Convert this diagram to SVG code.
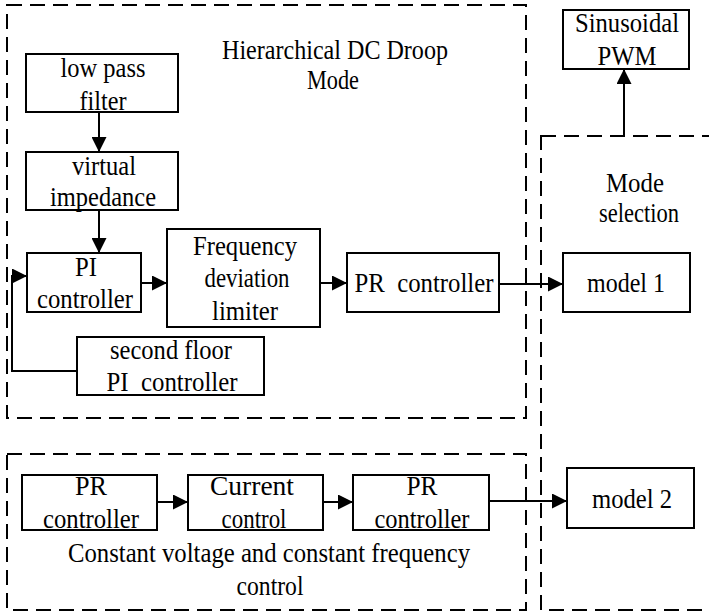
<svg xmlns="http://www.w3.org/2000/svg" width="709" height="615" viewBox="0 0 709 615">
<style>
.box{fill:#fff;stroke:#000;stroke-width:2}
.grp{fill:none;stroke:#000;stroke-width:2;stroke-dasharray:15 8}
.ln{fill:none;stroke:#000;stroke-width:2}
text{font-family:'Liberation Serif','Times New Roman',serif;font-size:27px;fill:#000;text-anchor:middle;white-space:pre}
.t{font-size:28px}
</style>
<defs>
<marker id="ah" markerUnits="userSpaceOnUse" markerWidth="15" markerHeight="15" refX="15" refY="7.5" orient="auto">
<path d="M0,0 L15,7.5 L0,15 Z" fill="#000"/>
</marker>
</defs>
<rect width="709" height="615" fill="#fff"/>
<g id="groups">
<rect id="droop-group" class="grp" x="7" y="5" width="519" height="413"/>
<rect id="cvcf-group" class="grp" x="7" y="454" width="519" height="156"/>
<rect id="mode-group" class="grp" x="541" y="136" width="200" height="474"/>
</g>
<g id="labels">
<text class="t" x="335" y="59" textLength="226" lengthAdjust="spacingAndGlyphs">Hierarchical DC Droop</text>
<text class="t" x="333" y="89" textLength="52" lengthAdjust="spacingAndGlyphs">Mode</text>
<text x="635" y="192" textLength="58" lengthAdjust="spacingAndGlyphs">Mode</text>
<text x="639" y="222" textLength="80" lengthAdjust="spacingAndGlyphs">selection</text>
<text x="269" y="562" textLength="402" lengthAdjust="spacingAndGlyphs">Constant voltage and constant frequency</text>
<text x="270" y="595" textLength="67" lengthAdjust="spacingAndGlyphs">control</text>
</g>
<g id="connectors">
<line class="ln" x1="99" y1="112" x2="99" y2="152" marker-end="url(#ah)"/>
<line class="ln" x1="99" y1="210" x2="99" y2="253" marker-end="url(#ah)"/>
<line class="ln" x1="141" y1="283" x2="167" y2="283" marker-end="url(#ah)"/>
<line class="ln" x1="320" y1="283" x2="347" y2="283" marker-end="url(#ah)"/>
<line class="ln" x1="499" y1="284" x2="563" y2="284" marker-end="url(#ah)"/>
<polyline class="ln" points="77,371 12,371 12,276 27,276" marker-end="url(#ah)"/>
<line class="ln" x1="157" y1="502" x2="188" y2="502" marker-end="url(#ah)"/>
<line class="ln" x1="323" y1="502" x2="353" y2="502" marker-end="url(#ah)"/>
<line class="ln" x1="489" y1="501" x2="567" y2="501" marker-end="url(#ah)"/>
<line class="ln" x1="624" y1="136" x2="624" y2="69" marker-end="url(#ah)"/>
</g>
<g id="low-pass-filter"><rect class="box" x="26" y="54" width="152" height="58"/><text x="103" y="77" textLength="85" lengthAdjust="spacingAndGlyphs">low pass</text><text x="103" y="110" textLength="47" lengthAdjust="spacingAndGlyphs">filter</text></g>
<g id="virtual-impedance"><rect class="box" x="26" y="152" width="152" height="58"/><text x="104" y="175" textLength="64" lengthAdjust="spacingAndGlyphs">virtual</text><text x="103" y="206" textLength="106" lengthAdjust="spacingAndGlyphs">impedance</text></g>
<g id="pi-controller"><rect class="box" x="27" y="253" width="114" height="59"/><text x="86" y="276" textLength="22" lengthAdjust="spacingAndGlyphs">PI</text><text x="85" y="308" textLength="96" lengthAdjust="spacingAndGlyphs">controller</text></g>
<g id="frequency-deviation-limiter"><rect class="box" x="167" y="229" width="153" height="98"/><text x="245" y="255" textLength="104" lengthAdjust="spacingAndGlyphs">Frequency</text><text x="247" y="287" textLength="85" lengthAdjust="spacingAndGlyphs">deviation</text><text x="245" y="320" textLength="66" lengthAdjust="spacingAndGlyphs">limiter</text></g>
<g id="pr-controller-top"><rect class="box" x="347" y="253" width="152" height="59"/><text x="424" y="292" textLength="139" lengthAdjust="spacingAndGlyphs">PR  controller</text></g>
<g id="second-floor-pi"><rect class="box" x="77" y="337" width="187" height="58"/><text x="171" y="359" textLength="122" lengthAdjust="spacingAndGlyphs">second floor</text><text x="172" y="391" textLength="131" lengthAdjust="spacingAndGlyphs">PI  controller</text></g>
<g id="model-1"><rect class="box" x="563" y="253" width="127" height="59"/><text x="626" y="292" textLength="78" lengthAdjust="spacingAndGlyphs">model 1</text></g>
<g id="model-2"><rect class="box" x="567" y="468" width="127" height="60"/><text x="632" y="508" textLength="80" lengthAdjust="spacingAndGlyphs">model 2</text></g>
<g id="sinusoidal-pwm"><rect class="box" x="563" y="10" width="126" height="59"/><text x="627" y="32" textLength="104" lengthAdjust="spacingAndGlyphs">Sinusoidal</text><text x="627" y="65" textLength="59" lengthAdjust="spacingAndGlyphs">PWM</text></g>
<g id="pr-controller-1"><rect class="box" x="22" y="475" width="135" height="55"/><text x="91" y="495" textLength="32" lengthAdjust="spacingAndGlyphs">PR</text><text x="91" y="528" textLength="96" lengthAdjust="spacingAndGlyphs">controller</text></g>
<g id="current-control"><rect class="box" x="188" y="475" width="135" height="55"/><text x="252" y="495" textLength="84" lengthAdjust="spacingAndGlyphs">Current</text><text x="254" y="528" textLength="65" lengthAdjust="spacingAndGlyphs">control</text></g>
<g id="pr-controller-2"><rect class="box" x="353" y="475" width="136" height="55"/><text x="422" y="495" textLength="31" lengthAdjust="spacingAndGlyphs">PR</text><text x="422" y="528" textLength="95" lengthAdjust="spacingAndGlyphs">controller</text></g>
</svg>
